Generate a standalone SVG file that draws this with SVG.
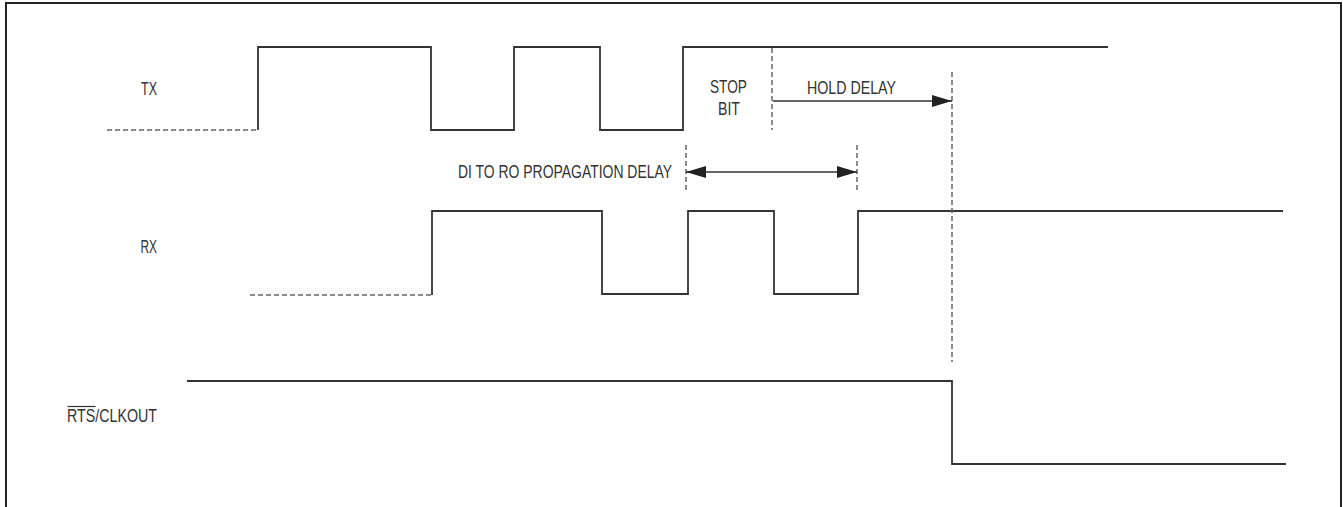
<svg xmlns="http://www.w3.org/2000/svg" width="1343" height="507" viewBox="0 0 1343 507">
<defs>
<style>
.wave{fill:none;stroke:#333;stroke-width:1.8;stroke-linejoin:miter}
.dash{fill:none;stroke:#666;stroke-width:1.5;stroke-dasharray:5 3}
.arr{fill:none;stroke:#333;stroke-width:1.5}
.lbl{font-family:"Liberation Sans",Arial,sans-serif;font-size:17.5px;fill:#333}
.ann{font-family:"Liberation Sans",Arial,sans-serif;font-size:19px;fill:#333}
.frame{fill:none;stroke:#222;stroke-width:2}
</style>
<marker id="ah" viewBox="0 0 20 12" refX="20" refY="6" markerWidth="20" markerHeight="12" markerUnits="userSpaceOnUse" orient="auto-start-reverse">
<path d="M0,0 L20,6 L0,12 Z" fill="#222"/>
</marker>
</defs>
<rect width="1343" height="507" fill="#fff"/>
<path class="frame" d="M6,507 V3 H1341 V507"/>

<g id="tx">
<path class="dash" d="M107,130 H258"/>
<path class="wave" d="M258,130 V47 H431 V130 H514 V47 H600 V130 H683 V47 H1108"/>
<text class="lbl" x="157" y="95" text-anchor="end" textLength="16" lengthAdjust="spacingAndGlyphs">TX</text>
</g>

<g id="rx">
<path class="dash" d="M250,295 H432"/>
<path class="wave" d="M432,295 V211 H602 V294 H688 V211 H774 V294 H858 V211 H1283"/>
<text class="lbl" x="157" y="253" text-anchor="end" textLength="16.5" lengthAdjust="spacingAndGlyphs">RX</text>
</g>

<g id="rts">
<path class="wave" d="M187,381 H952 V464 H1286"/>
<text class="lbl" x="157" y="422" text-anchor="end" textLength="90" lengthAdjust="spacingAndGlyphs">RTS/CLKOUT</text>
<path d="M67.5,406.5 H95.5" stroke="#333" stroke-width="1.2"/>
</g>

<g id="annotations">
<path class="dash" d="M772,48 V130"/>
<path class="dash" d="M686,145 V193"/>
<path class="dash" d="M857,145 V193"/>
<path class="dash" d="M952,72 V362"/>
<text class="ann" x="710" y="93" textLength="37" lengthAdjust="spacingAndGlyphs">STOP</text>
<text class="ann" x="718" y="115" textLength="22" lengthAdjust="spacingAndGlyphs">BIT</text>
<text class="ann" x="807" y="94" textLength="89" lengthAdjust="spacingAndGlyphs">HOLD DELAY</text>
<text class="ann" x="458" y="178" textLength="214" lengthAdjust="spacingAndGlyphs">DI TO RO PROPAGATION DELAY</text>
</g>

<g id="connectors">
<path class="arr" d="M773,101 H952" marker-end="url(#ah)"/>
<path class="arr" d="M686,172 H857" marker-start="url(#ah)" marker-end="url(#ah)"/>
</g>
</svg>
